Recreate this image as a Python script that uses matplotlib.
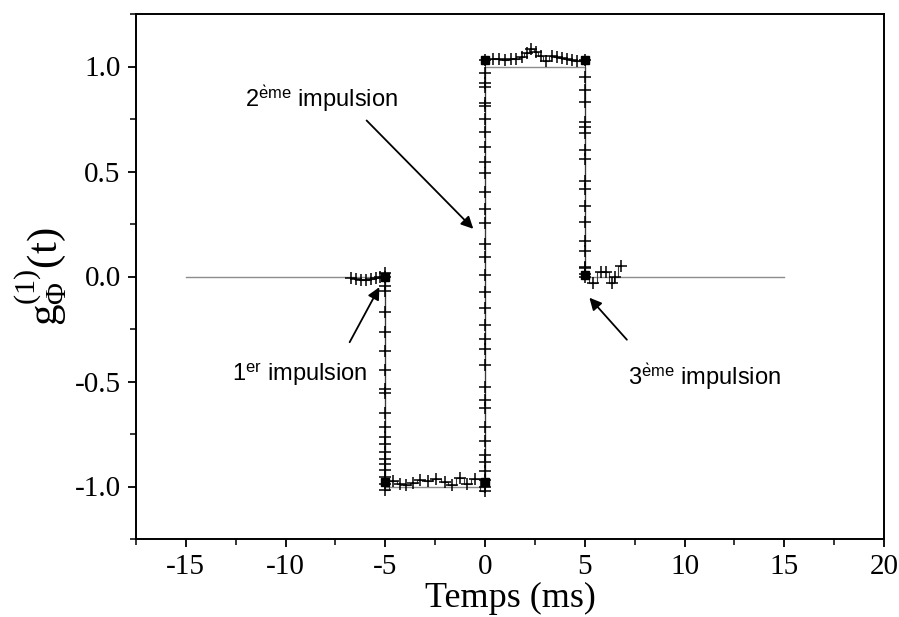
import numpy as np
import matplotlib
matplotlib.use("Agg")
import matplotlib.pyplot as plt
from matplotlib.ticker import MultipleLocator, FormatStrFormatter

plt.rcParams["axes.unicode_minus"] = False
plt.rcParams["mathtext.fontset"] = "custom"
plt.rcParams["mathtext.rm"] = "Liberation Serif"
plt.rcParams["mathtext.it"] = "Liberation Serif:italic"
plt.rcParams["mathtext.bf"] = "Liberation Serif:bold"
plt.rcParams["mathtext.sf"] = "Liberation Sans"

# ideal square wave (grey reference)
ref_t = [-15, -5, -5, 0, 0, 5, 5, 15]
ref_g = [0, 0, -1, -1, 1, 1, 0, 0]

# measured points, in time order
left_t = [-6.70, -6.45, -6.20, -5.95, -5.70, -5.45, -5.25]
left_g = [-0.005, -0.010, -0.015, -0.015, -0.010, -0.005, 0.000]

edge1_t = -5.0
edge1_g = [0.015, -0.003, -0.043, -0.070, -0.170, -0.265, -0.356, -0.444, -0.535,
           -0.556, -0.651, -0.717, -0.765, -0.797, -0.837, -0.868, -0.895,
           -0.921, -0.956, -0.987, -1.019]

low_t = [-4.60, -4.24, -3.94, -3.61, -3.24, -2.86, -2.45, -2.00, -1.67, -1.25, -0.89, -0.50]
low_g = [-0.976, -0.987, -0.995, -0.984, -0.967, -0.976, -0.963, -0.979, -0.995,
         -0.960, -0.990, -0.963]

edge2_t = 0.0
edge2_g = [-1.022, -1.000, -0.971, -0.924, -0.884, -0.848, -0.784, -0.717, -0.625,
           -0.590, -0.524, -0.420, -0.344, -0.297, -0.233, -0.149, -0.075, 0.005,
           0.092, 0.156, 0.254, 0.322, 0.401, 0.492, 0.544, 0.616, 0.687, 0.751,
           0.814, 0.827, 0.902, 0.922, 0.968, 1.030]

high_t = [0.42, 0.72, 1.00, 1.29, 1.56, 1.84, 2.09, 2.31, 2.56, 2.79, 3.06, 3.35,
          3.60, 3.85, 4.10, 4.35, 4.60]
high_g = [1.035, 1.035, 1.032, 1.035, 1.037, 1.045, 1.062, 1.085, 1.070, 1.048,
          1.025, 1.050, 1.046, 1.042, 1.035, 1.030, 1.028]

edge3_t = 5.0
edge3_g = [1.030, 0.952, 0.886, 0.830, 0.735, 0.714, 0.683, 0.603, 0.560, 0.457,
           0.418, 0.338, 0.259, 0.168, 0.120, 0.044, 0.040, 0.013, -0.003]

right_t = [5.43, 5.80, 6.07, 6.36, 6.52, 6.81]
right_g = [-0.030, 0.020, 0.020, -0.030, 0.000, 0.052]

# corner points (filled squares)
sq_t = [-5, -5, 0, 0, 5, 5]
sq_g = [0.0, -0.98, -0.98, 1.03, 1.03, 0.005]

t_all = np.concatenate([left_t, np.full(len(edge1_g), edge1_t), low_t,
                        np.full(len(edge2_g), edge2_t), high_t,
                        np.full(len(edge3_g), edge3_t), right_t])
g_all = np.concatenate([left_g, edge1_g, low_g, edge2_g, high_g, edge3_g, right_g])

fig = plt.figure(figsize=(8.99, 6.17), dpi=100)
ax = fig.add_axes([136 / 899, 1 - 539 / 617, 748 / 899, 525 / 617])

ax.plot(ref_t, ref_g, color="#8c8c8c", lw=1.0, zorder=1)
ax.plot(t_all, g_all, color="#3a3a3a", lw=0.8, drawstyle="steps-mid", zorder=2)
ax.plot(t_all, g_all, ls="none", marker="+", ms=9, mew=1.1, color="black", zorder=3)
ax.plot(sq_t, sq_g, ls="none", marker="s", ms=6, color="black", zorder=4)

ax.set_xlim(-17.5, 20)
ax.set_ylim(-1.25, 1.25)
ax.xaxis.set_major_locator(MultipleLocator(5))
ax.xaxis.set_minor_locator(MultipleLocator(2.5))
ax.yaxis.set_major_locator(MultipleLocator(0.5))
ax.yaxis.set_minor_locator(MultipleLocator(0.25))
ax.yaxis.set_major_formatter(FormatStrFormatter("%.1f"))
ax.xaxis.set_major_formatter(FormatStrFormatter("%d"))
ax.tick_params(which="major", direction="out", length=6, width=1.3, pad=5,
               labelsize=21)
ax.tick_params(which="minor", direction="out", length=4, width=1.1)
for lab in ax.get_xticklabels() + ax.get_yticklabels():
    lab.set_family("Liberation Serif")
for sp in ax.spines.values():
    sp.set_linewidth(1.4)

ax.set_xlabel("Temps (ms)", family="Liberation Serif", fontsize=26, labelpad=1)
ax.set_ylabel(r"$\mathrm{g}_{\Phi}^{(1)}(\mathrm{t})$", fontsize=31, labelpad=4)

arrow = dict(arrowstyle="-|>", color="black", lw=1.3, mutation_scale=18,
             shrinkA=0, shrinkB=0)
ax.annotate("", xy=(-0.59, 0.227), xytext=(-5.94, 0.743), arrowprops=arrow)
ax.annotate("", xy=(-5.30, -0.051), xytext=(-6.79, -0.313), arrowprops=arrow)
ax.annotate("", xy=(5.23, -0.101), xytext=(7.11, -0.301), arrowprops=arrow)

tfont = dict(family="Liberation Sans", fontsize=17, va="center", ha="left")
ax.text(-12.04, 0.848, r"2$^{\mathsf{\`eme}}$ impulsion", **tfont)
ax.text(-12.71, -0.467, r"1$^{\mathsf{er}}$ impulsion", **tfont)
ax.text(7.19, -0.476, r"3$^{\mathsf{\`eme}}$ impulsion", **tfont)

fig.savefig("out.png", dpi=100)
